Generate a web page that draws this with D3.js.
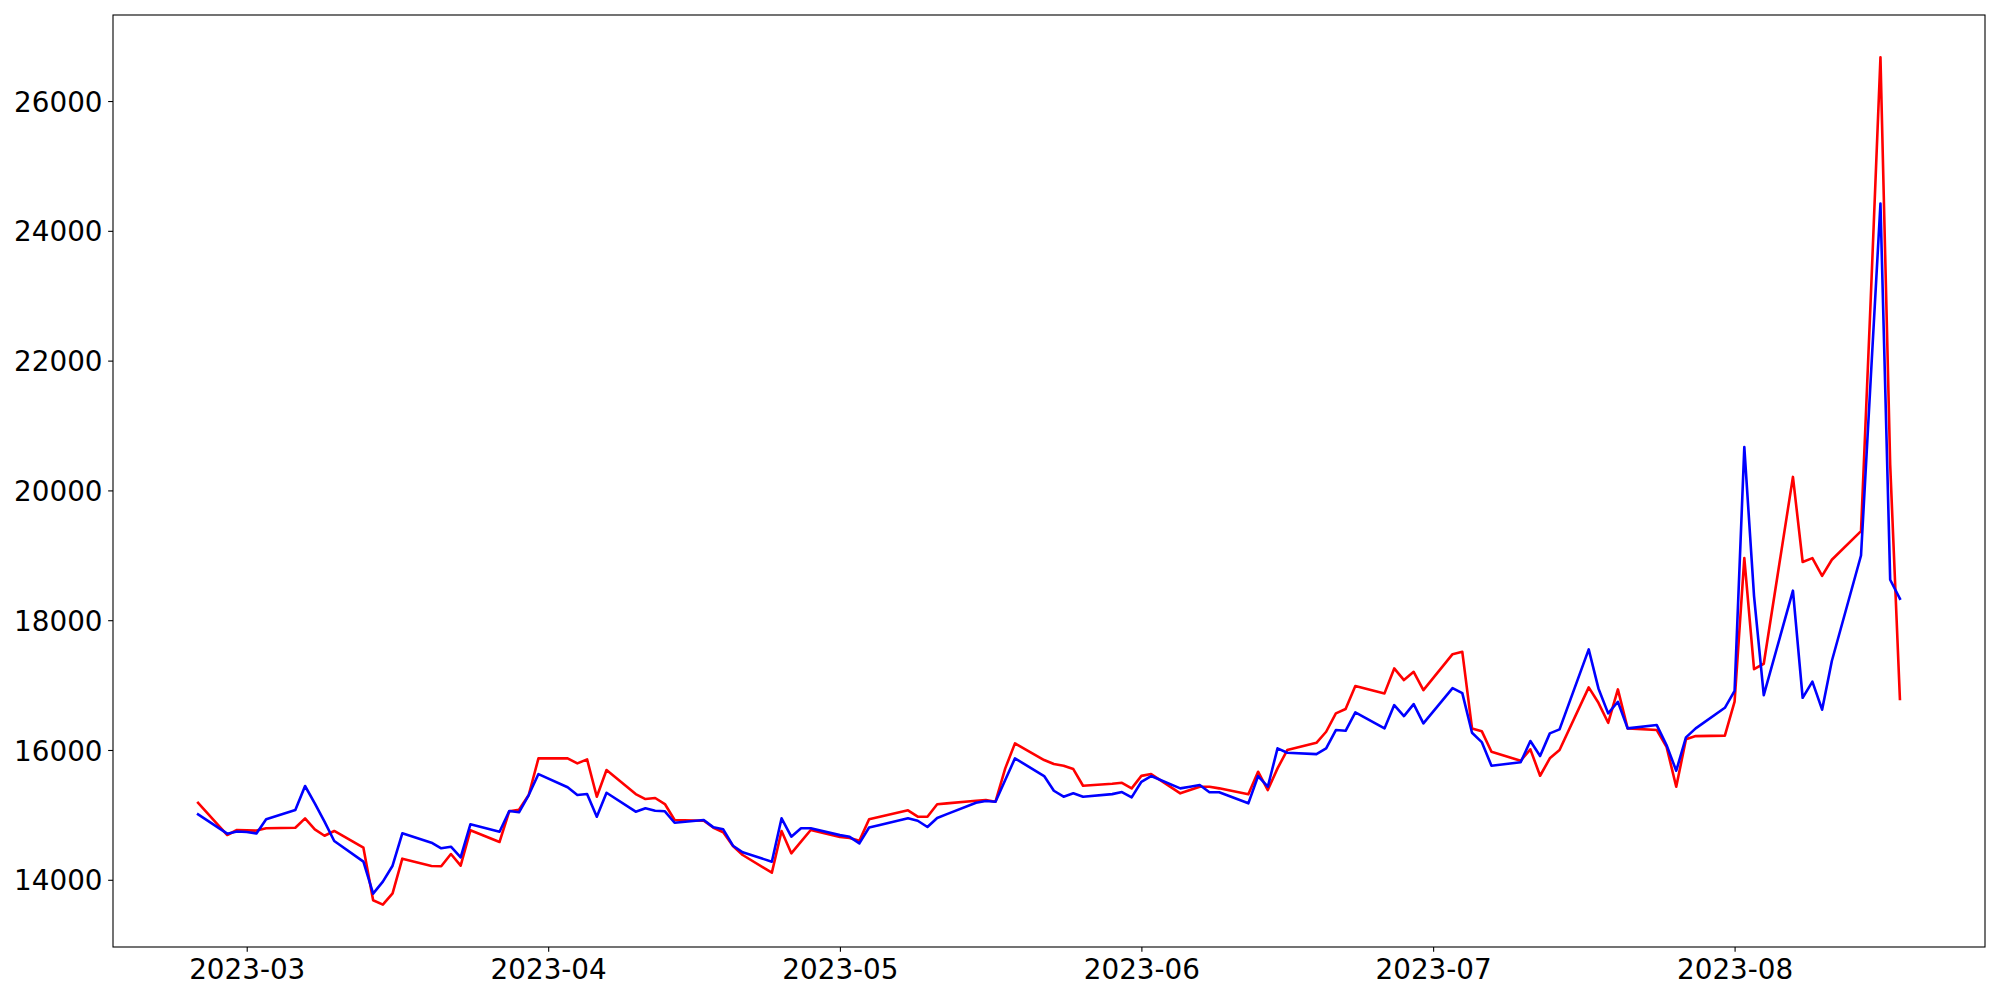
<!DOCTYPE html>
<html>
<head>
<meta charset="utf-8">
<script src="https://cdn.jsdelivr.net/npm/d3@7"></script>
<style>
  html, body { margin: 0; padding: 0; background: #ffffff; }
  svg { display: block; }
  .tick text { font-family: "DejaVu Sans", sans-serif; font-size: 27.8px; fill: #000; }
</style>
</head>
<body>
<svg id="chart" width="2000" height="1000"></svg>
<script>
// ---- data ----
const dates = [
  "2023-02-24","2023-02-27","2023-02-28",
  "2023-03-01","2023-03-02","2023-03-03","2023-03-06","2023-03-07","2023-03-08","2023-03-09","2023-03-10",
  "2023-03-13","2023-03-14","2023-03-15","2023-03-16","2023-03-17","2023-03-20","2023-03-21","2023-03-22",
  "2023-03-23","2023-03-24","2023-03-27","2023-03-28","2023-03-29","2023-03-30","2023-03-31",
  "2023-04-03","2023-04-04","2023-04-05","2023-04-06","2023-04-07","2023-04-10","2023-04-11","2023-04-12",
  "2023-04-13","2023-04-14","2023-04-17","2023-04-18","2023-04-19","2023-04-20","2023-04-21","2023-04-24",
  "2023-04-25","2023-04-26","2023-04-27","2023-04-28",
  "2023-05-01","2023-05-02","2023-05-03","2023-05-04","2023-05-05","2023-05-08","2023-05-09","2023-05-10",
  "2023-05-11","2023-05-12","2023-05-15","2023-05-16","2023-05-17","2023-05-18","2023-05-19","2023-05-22",
  "2023-05-23","2023-05-24","2023-05-25","2023-05-26","2023-05-29","2023-05-30","2023-05-31",
  "2023-06-01","2023-06-02","2023-06-05","2023-06-06","2023-06-07","2023-06-08","2023-06-09","2023-06-12",
  "2023-06-13","2023-06-14","2023-06-15","2023-06-16","2023-06-19","2023-06-20","2023-06-21","2023-06-22",
  "2023-06-23","2023-06-26","2023-06-27","2023-06-28","2023-06-29","2023-06-30",
  "2023-07-03","2023-07-04","2023-07-05","2023-07-06","2023-07-07","2023-07-10","2023-07-11","2023-07-12",
  "2023-07-13","2023-07-14","2023-07-17","2023-07-18","2023-07-19","2023-07-20","2023-07-21","2023-07-24",
  "2023-07-25","2023-07-26","2023-07-27","2023-07-28","2023-07-31",
  "2023-08-01","2023-08-02","2023-08-03","2023-08-04","2023-08-07","2023-08-08","2023-08-09","2023-08-10",
  "2023-08-11","2023-08-14","2023-08-15","2023-08-16","2023-08-17","2023-08-18"
];

const redValues = [
  15187,14690,14767,
  14762,14758,14793,14802,14947,14778,14679,14752,
  14494,13684,13617,13792,14325,14213,14208,14397,
  14217,14762,14583,15057,15080,15306,15871,
  15871,15794,15856,15280,15691,15321,15244,15260,
  15167,14921,14910,14802,14732,14521,14382,14109,
  14752,14408,14587,14767,
  14660,14645,14600,14934,14969,15070,14972,14972,
  15163,15178,15218,15229,15203,15717,16102,15845,
  15783,15757,15706,15449,15480,15495,15409,
  15601,15629,15332,15383,15434,15434,15409,15317,
  15665,15383,15717,15999,16111,16281,16564,16631,
  16985,16872,17257,17077,17205,16923,
  17477,17513,16333,16290,15973,15834,16010,15603,
  15871,15999,16965,16727,16419,16934,16333,16307,
  16050,15434,16164,16214,16221,
  16745,18956,17246,17329,20208,18897,18956,18682,
  18931,19373,22950,26673,20400,16787
];

const blueValues = [
  15009,14710,14745,
  14736,14714,14934,15075,15445,15178,14895,14598,
  14279,13786,13971,14217,14716,14571,14485,14510,
  14347,14855,14741,15060,15040,15306,15629,
  15425,15306,15321,14972,15341,15049,15101,15064,
  15055,14879,14921,14808,14778,14525,14424,14279,
  14947,14664,14793,14793,
  14688,14662,14560,14805,14842,14947,14910,14813,
  14952,15012,15187,15213,15203,15537,15871,15599,
  15372,15280,15332,15280,15320,15352,15270,
  15510,15599,15409,15434,15460,15348,15348,15178,
  15599,15434,16025,15957,15937,16025,16307,16296,
  16580,16333,16692,16522,16707,16410,
  16953,16876,16265,16122,15757,15810,16138,15907,
  16256,16318,17550,16949,16564,16743,16333,16384,
  16076,15680,16195,16333,16650,
  16912,20667,18372,16846,18455,16804,17054,16621,
  17371,18997,21720,24421,18623,18330
];

const xTickLabels = ["2023-03","2023-04","2023-05","2023-06","2023-07","2023-08"];
const yTickValues = [14000,16000,18000,20000,22000,24000,26000];

const seriesNames = ["red", "blue"];
const seriesColors = ["#ff0000", "#0000ff"];

// ---- layout ----
const W = 2000, H = 1000;
const plot = { left: 113, right: 1985, top: 15, bottom: 947 };

const parse = d3.timeParse("%Y-%m-%d");
const parseMonth = d3.timeParse("%Y-%m");
const xDates = dates.map(parse);

const table = xDates.map((d, i) => ({ date: d, red: redValues[i], blue: blueValues[i] }));

// matplotlib-like 5% margins
const xExt = d3.extent(xDates);
const xPad = (xExt[1] - xExt[0]) * 0.05;
const x = d3.scaleTime()
  .domain([new Date(+xExt[0] - xPad), new Date(+xExt[1] + xPad)])
  .range([plot.left, plot.right]);

const allVals = redValues.concat(blueValues);
const yExt = d3.extent(allVals);
const yPad = (yExt[1] - yExt[0]) * 0.05;
const y = d3.scaleLinear()
  .domain([yExt[0] - yPad, yExt[1] + yPad])
  .range([plot.bottom, plot.top]);

const svg = d3.select("#chart");
svg.append("rect").attr("width", W).attr("height", H).attr("fill", "#fff");

// lines
const lineGen = key => d3.line()
  .x(d => x(d.date))
  .y(d => y(d[key]));

const linesG = svg.append("g");
seriesNames.forEach((name, i) => {
  linesG.append("path")
    .datum(table)
    .attr("fill", "none")
    .attr("stroke", seriesColors[i])
    .attr("stroke-width", 2.6)
    .attr("stroke-linejoin", "round")
    .attr("stroke-linecap", "square")
    .attr("d", lineGen(name));
});

// axes
const tickLen = 4.86;
const xAxis = d3.axisBottom(x)
  .tickValues(xTickLabels.map(parseMonth))
  .tickFormat(d3.timeFormat("%Y-%m"))
  .tickSize(tickLen)
  .tickSizeOuter(0)
  .tickPadding(7.7);

const yAxis = d3.axisLeft(y)
  .tickValues(yTickValues)
  .tickFormat(d3.format("d"))
  .tickSize(tickLen)
  .tickSizeOuter(0)
  .tickPadding(5.6);

const gx = svg.append("g")
  .attr("transform", `translate(0,${plot.bottom})`)
  .call(xAxis);
gx.select(".domain").remove();
gx.selectAll(".tick line").attr("stroke", "#000").attr("stroke-width", 1.1);
gx.selectAll(".tick text").attr("dy", "0.71em");

const gy = svg.append("g")
  .attr("transform", `translate(${plot.left},0)`)
  .call(yAxis);
gy.select(".domain").remove();
gy.selectAll(".tick line").attr("stroke", "#000").attr("stroke-width", 1.1);
gy.selectAll(".tick text").attr("dy", "0.365em");

svg.selectAll(".tick text")
  .style("font-family", '"DejaVu Sans", sans-serif')
  .style("font-size", "27.8px");

// frame (spines)
svg.append("rect")
  .attr("x", plot.left)
  .attr("y", plot.top)
  .attr("width", plot.right - plot.left)
  .attr("height", plot.bottom - plot.top)
  .attr("fill", "none")
  .attr("stroke", "#000")
  .attr("stroke-width", 1.1);
</script>
</body>
</html>
